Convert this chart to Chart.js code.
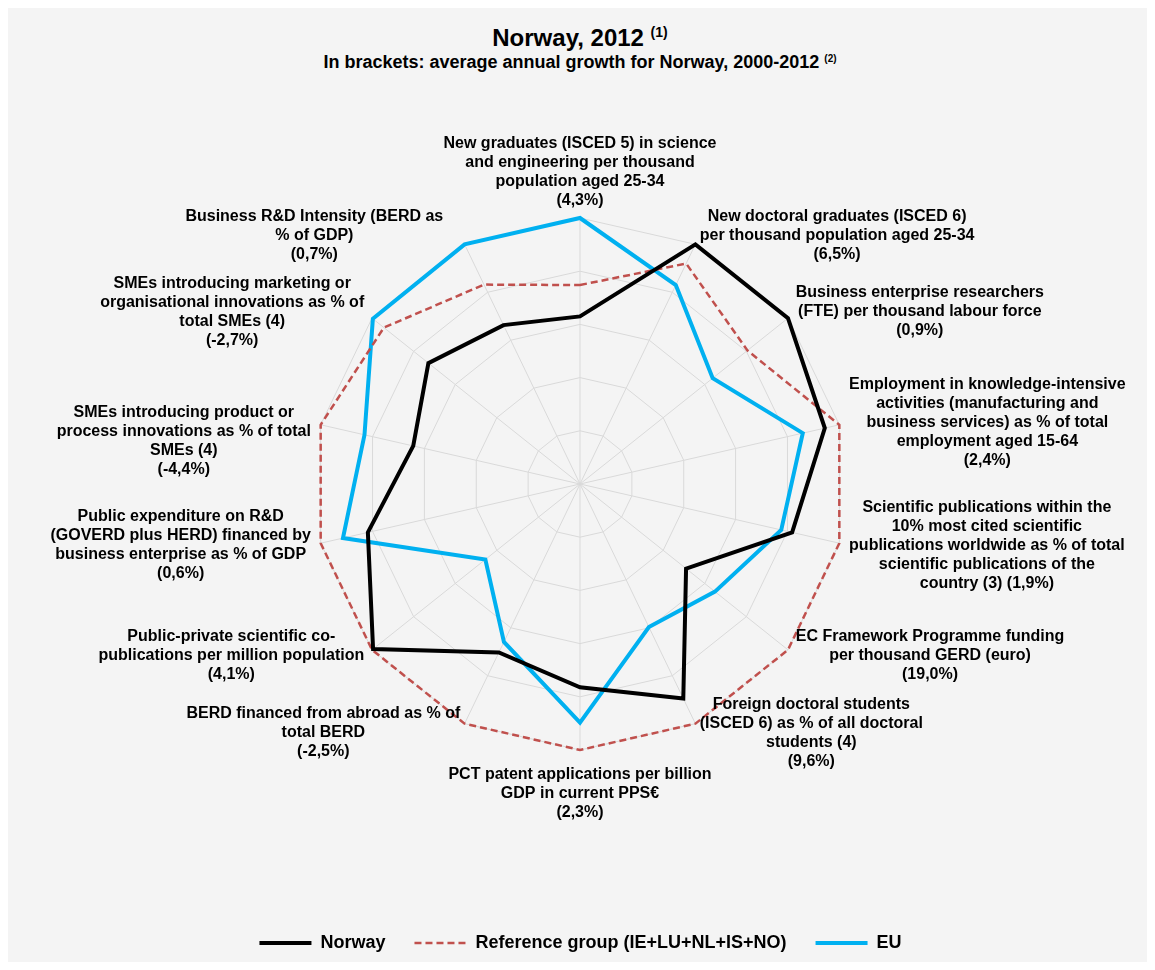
<!DOCTYPE html>
<html>
<head>
<meta charset="utf-8">
<title>Norway, 2012</title>
<script src="https://cdn.jsdelivr.net/npm/chart.js@4.4.1/dist/chart.umd.min.js"></script>
<style>
  html, body { margin:0; padding:0; background:#fff; }
  #frame { position:absolute; left:8px; top:8px; width:1139px; height:954px; background:#f4f4f4;
           font-family:"Liberation Sans", Arial, sans-serif; font-weight:bold; color:#000; }
  .ttl { position:absolute; left:0; width:1144px; text-align:center; white-space:nowrap; }
  #title { top:16px; font-size:24px; line-height:28px; }
  #subtitle { top:44px; font-size:18px; line-height:20px; }
  #title sup { font-size:14px; vertical-align:9px; line-height:0; }
  #subtitle sup { font-size:10px; vertical-align:6px; line-height:0; }
  canvas { position:absolute; left:0; top:0; }
</style>
</head>
<body>
<div id="frame">
  <div id="title" class="ttl">Norway, 2012 <sup>(1)</sup></div>
  <div id="subtitle" class="ttl">In brackets: average annual growth for Norway, 2000-2012 <sup>(2)</sup></div>
  <canvas id="radar" width="1139" height="954"></canvas>
</div>
<script>
// axis labels, clockwise from the top
const categories = [
  ['New graduates (ISCED 5) in science', 'and engineering per thousand', 'population aged 25-34', '(4,3%)'],
  ['New doctoral graduates (ISCED 6)', 'per thousand population aged 25-34', '(6,5%)'],
  ['Business enterprise researchers', '(FTE) per thousand labour force', '(0,9%)'],
  ['Employment in knowledge-intensive', 'activities (manufacturing and', 'business services) as % of total', 'employment aged 15-64', '(2,4%)'],
  ['Scientific publications within the', '10% most cited scientific', 'publications worldwide as % of total', 'scientific publications of the', 'country (3) (1,9%)'],
  ['EC Framework Programme funding', 'per thousand GERD (euro)', '(19,0%)'],
  ['Foreign doctoral students', '(ISCED 6) as % of all doctoral', 'students (4)', '(9,6%)'],
  ['PCT patent applications per billion', 'GDP in current PPS€', '(2,3%)'],
  ['BERD financed from abroad as % of', 'total BERD', '(-2,5%)'],
  ['Public-private scientific co-', 'publications per million population', '(4,1%)'],
  ['Public expenditure on R&D', '(GOVERD plus HERD) financed by', 'business enterprise as % of GDP', '(0,6%)'],
  ['SMEs introducing product or', 'process innovations as % of total', 'SMEs (4)', '(-4,4%)'],
  ['SMEs introducing marketing or', 'organisational innovations as % of', 'total SMEs (4)', '(-2,7%)'],
  ['Business R&D Intensity (BERD as', '% of GDP)', '(0,7%)']
];

const norway   = [0.63, 1.0, 1.0, 0.944, 0.818, 0.51, 0.895, 0.764, 0.703, 0.995, 0.818, 0.643, 0.729, 0.663];
const refGroup = [0.748, 0.92, 0.805, 1.0, 1.0, 1.0, 1.0, 1.0, 1.0, 1.0, 1.0, 1.0, 0.943, 0.832];
const eu       = [1.0, 0.83, 0.638, 0.859, 0.776, 0.649, 0.597, 0.897, 0.659, 0.455, 0.914, 0.831, 0.996, 1.0];

const seriesNames = ['Norway', 'Reference group (IE+LU+NL+IS+NO)', 'EU'];

const FONT = '"Liberation Sans", Arial, sans-serif';

// small hand nudges (px) for labels that Excel placed off the usual spot
const labelNudge = { 0: [0, 2], 7: [0, 5], 11: [0, 19], 13: [-17, 0] };

// draws the multi-line axis labels, centred text, beside each spoke end
const axisLabels = {
  id: 'axisLabels',
  afterDraw(chart){
    const scale = chart.scales.r;
    const ctx = chart.ctx;
    const lh = 19;
    ctx.save();
    ctx.font = 'bold 16px ' + FONT;
    ctx.fillStyle = '#000';
    ctx.textAlign = 'center';
    ctx.textBaseline = 'middle';
    categories.forEach((lines, i) => {
      const p = scale.getPointPosition(i, scale.drawingArea + 10);
      const w = Math.max(...lines.map(l => ctx.measureText(l).width));
      const h = lines.length * lh;
      const dx = Math.cos(p.angle), dy = Math.sin(p.angle);
      let cx, cy;
      if(Math.abs(dx) < 0.05){
        cx = p.x;
        cy = dy < 0 ? p.y - h / 2 : p.y + h / 2;
      } else {
        cx = dx > 0 ? p.x + w / 2 : p.x - w / 2;
        cy = p.y;
      }
      const n = labelNudge[i] || [0, 0];
      cx += n[0]; cy += n[1];
      lines.forEach((l, j) => ctx.fillText(l, cx, cy - h / 2 + lh * (j + 0.5)));
    });
    ctx.restore();
  }
};

new Chart(document.getElementById('radar'), {
  type: 'radar',
  data: {
    labels: categories.map(l => l.join(' ')),
    datasets: [
      { label: seriesNames[0], data: norway, borderColor: '#000000', backgroundColor: '#000000', borderWidth: 4, fill: false },
      { label: seriesNames[1], data: refGroup, borderColor: '#c0504d', backgroundColor: '#c0504d', borderWidth: 2.5, borderDash: [7, 4], fill: false },
      { label: seriesNames[2], data: eu, borderColor: '#00b0f0', backgroundColor: '#00b0f0', borderWidth: 4, fill: false }
    ]
  },
  options: {
    responsive: false,
    animation: false,
    layout: { padding: { left: 6, right: 0, top: 210, bottom: 0 } },
    elements: { line: { tension: 0, borderJoinStyle: 'miter' }, point: { radius: 0, hoverRadius: 0 } },
    scales: {
      r: {
        min: 0, max: 1,
        ticks: { display: false, stepSize: 0.2 },
        grid: { color: '#d9d9d9', lineWidth: 1 },
        angleLines: { color: '#d9d9d9', lineWidth: 1 },
        pointLabels: { display: false }
      }
    },
    plugins: {
      tooltip: { enabled: false },
      legend: {
        position: 'bottom',
        // empty title only used as spacer between the web and the legend row
        title: { display: true, text: '', font: { size: 1 }, padding: { top: 152.8, bottom: 0 } },
        labels: {
          usePointStyle: true, pointStyle: 'line', pointStyleWidth: 52, boxWidth: 52,
          padding: 29, color: '#000',
          font: { family: FONT, size: 18, weight: 'bold' },
          generateLabels(chart){
            const items = Chart.defaults.plugins.legend.labels.generateLabels(chart);
            items.forEach(it => {
              const ds = chart.data.datasets[it.datasetIndex];
              it.lineDash = ds.borderDash || [];
              it.lineWidth = ds.borderWidth;
              it.strokeStyle = ds.borderColor;
            });
            return items;
          }
        }
      }
    }
  },
  plugins: [axisLabels]
});
</script>
</body>
</html>
